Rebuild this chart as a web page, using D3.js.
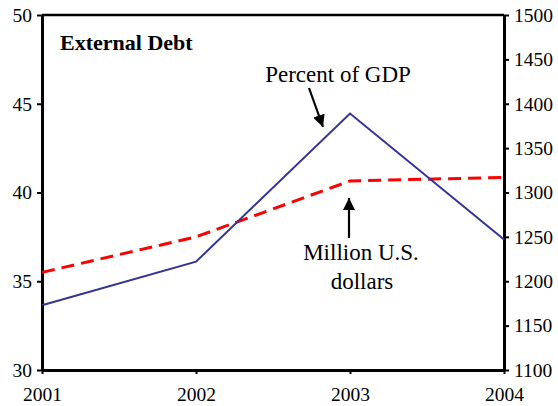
<!DOCTYPE html>
<html>
<head>
<meta charset="utf-8">
<script src="https://cdn.jsdelivr.net/npm/d3@7"></script>
<style>
  html, body { margin: 0; padding: 0; background: #fff; }
  svg { display: block; }
</style>
</head>
<body>
<svg id="chart" width="558" height="406" font-family="Liberation Serif"></svg>
<script>
// External debt, 2001-2004
const years = [2001, 2002, 2003, 2004];
const percentOfGDP = [33.65, 36.1, 44.45, 37.35];
const millionUSD = [1210, 1250, 1313, 1317];
const leftTicks = [30, 35, 40, 45, 50];
const rightTicks = [1100, 1150, 1200, 1250, 1300, 1350, 1400, 1450, 1500];

const FONT = "Liberation Serif";
const TICK_SIZE = 19.5;
const svg = d3.select("#chart");
const margin = { left: 42, right: 54, top: 15, bottom: 36 };
const W = 558, H = 406;

const x = d3.scaleLinear().domain([2001, 2004]).range([margin.left, W - margin.right]);
const yL = d3.scaleLinear().domain([30, 50]).range([H - margin.bottom, margin.top]);
const yR = d3.scaleLinear().domain([1100, 1500]).range([H - margin.bottom, margin.top]);

// top frame line
svg.append("line")
  .attr("x1", x(2001)).attr("x2", x(2004))
  .attr("y1", yL(50)).attr("y2", yL(50))
  .attr("stroke", "#000").attr("stroke-width", 2.5);

// axes
const styleAxis = g => {
  g.attr("font-family", FONT).attr("font-size", TICK_SIZE);
  g.select(".domain").attr("stroke", "#000").attr("stroke-width", 3);
  g.selectAll(".tick line").attr("stroke", "#000").attr("stroke-width", 2);
  g.selectAll(".tick text").attr("fill", "#000")
    .attr("font-family", FONT).attr("font-size", TICK_SIZE);
};

svg.append("g")
  .attr("transform", `translate(${x(2001)},0)`)
  .call(d3.axisLeft(yL).tickValues(leftTicks).tickSize(5).tickSizeOuter(0).tickPadding(5).tickFormat(d3.format("d")))
  .call(styleAxis);

svg.append("g")
  .attr("transform", `translate(${x(2004)},0)`)
  .call(d3.axisRight(yR).tickValues(rightTicks).tickSize(5).tickSizeOuter(0).tickPadding(5).tickFormat(d3.format("d")))
  .call(styleAxis);

svg.append("g")
  .attr("transform", `translate(0,${yL(30)})`)
  .call(d3.axisBottom(x).tickValues(years).tickSize(4).tickSizeOuter(0).tickPadding(13).tickFormat(d3.format("d")))
  .call(styleAxis);

// series
const gdpLine = d3.line().x((d, i) => x(years[i])).y(d => yL(d));
const usdLine = d3.line().x((d, i) => x(years[i])).y(d => yR(d));

svg.append("path")
  .datum(millionUSD)
  .attr("d", usdLine)
  .attr("fill", "none")
  .attr("stroke", "#ff0000")
  .attr("stroke-width", 3)
  .attr("stroke-dasharray", "13,7");

svg.append("path")
  .datum(percentOfGDP)
  .attr("d", gdpLine)
  .attr("fill", "none")
  .attr("stroke", "#333399")
  .attr("stroke-width", 2);

// title
svg.append("text")
  .attr("x", 60).attr("y", 50)
  .attr("font-family", FONT).attr("font-size", 22).attr("font-weight", "bold")
  .text("External Debt");

// annotations
svg.append("defs").append("marker")
  .attr("id", "head")
  .attr("viewBox", "0 0 10 10")
  .attr("refX", 10).attr("refY", 5)
  .attr("markerWidth", 5.5).attr("markerHeight", 5.5)
  .attr("markerUnits", "strokeWidth")
  .attr("orient", "auto")
  .append("path").attr("d", "M0,0 L10,5 L0,10 z").attr("fill", "#000");

const label = (tx, ty, s) => svg.append("text")
  .attr("x", tx).attr("y", ty)
  .attr("text-anchor", "middle")
  .attr("font-family", FONT).attr("font-size", 23)
  .text(s);

label(338, 82, "Percent of GDP");

svg.append("line")
  .attr("x1", 309).attr("y1", 88)
  .attr("x2", 323).attr("y2", 127)
  .attr("stroke", "#000").attr("stroke-width", 2.2)
  .attr("marker-end", "url(#head)");

svg.append("line")
  .attr("x1", 349).attr("y1", 238)
  .attr("x2", 349).attr("y2", 198)
  .attr("stroke", "#000").attr("stroke-width", 2.2)
  .attr("marker-end", "url(#head)");

label(361, 260, "Million U.S.");
label(362, 289, "dollars");
</script>
</body>
</html>
